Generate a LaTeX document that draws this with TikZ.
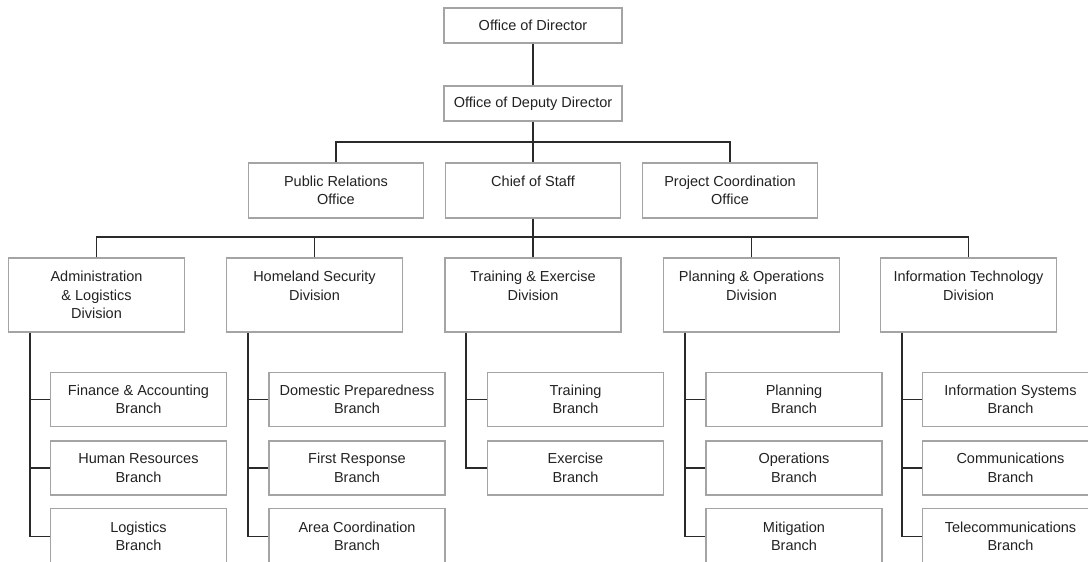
\documentclass[tikz,border=0pt]{standalone}
\usepackage{fontspec}
\setmainfont{Liberation Sans}
\definecolor{boxline}{HTML}{A4A4A4}
\definecolor{conn}{HTML}{2A2A2A}
\definecolor{txt}{HTML}{222222}
\tikzset{
  box/.style={draw=boxline, line width=1.4pt, fill=white, inner sep=0pt, align=center,
    text=txt, font=\fontsize{14.5}{18.5}\selectfont},
  topbox/.style={box, minimum width=178pt, minimum height=35pt},
  offbox/.style={box, minimum width=175pt, minimum height=55pt},
  divbox/.style={box, minimum width=176pt, minimum height=74pt},
  brbox/.style={box, minimum width=176pt, minimum height=54pt},
  lastbox/.style={box, minimum width=176pt, minimum height=56pt},
  link/.style={draw=conn, line width=1.7pt}
}
\begin{document}
\begin{tikzpicture}[x=1pt,y=-1pt]
\useasboundingbox (0,0) rectangle (1088,562);
\clip (0,0) rectangle (1088,562);
\fill[white] (0,0) rectangle (1088,562);

% top levels
\node[topbox] (dir) at (533,25.5) {Office of Director};
\node[topbox] (dep) at (533,103.5) {Office of Deputy Director};
\node[offbox] (pr) at (336,190.5) {Public Relations\\Office};
\node[offbox] (cos) at (533,190.5) {Chief of Staff\\\mbox{}};
\node[offbox] (pco) at (730,190.5) {Project Coordination\\Office};

% divisions
\node[divbox] (adm) at (96.5,295) {Administration\\\& Logistics\\Division};
\node[divbox] (hsd) at (314.5,295) {Homeland Security\\Division\\\mbox{}};
\node[divbox] (ted) at (533,295) {Training \& Exercise\\Division\\\mbox{}};
\node[divbox] (pod) at (751.5,295) {Planning \& Operations\\Division\\\mbox{}};
\node[divbox] (itd) at (968.5,295) {Information Technology\\Division\\\mbox{}};

% branches
\node[brbox] (a1) at (138.5,399.5) {Finance \& Accounting\\Branch};
\node[brbox] (a2) at (138.5,468) {Human Resources\\Branch};
\node[lastbox] (a3) at (138.5,536.5) {Logistics\\Branch};

\node[brbox] (h1) at (357,399.5) {Domestic Preparedness\\Branch};
\node[brbox] (h2) at (357,468) {First Response\\Branch};
\node[lastbox] (h3) at (357,536.5) {Area Coordination\\Branch};

\node[brbox] (t1) at (575.5,399.5) {Training\\Branch};
\node[brbox] (t2) at (575.5,468) {Exercise\\Branch};

\node[brbox] (p1) at (794,399.5) {Planning\\Branch};
\node[brbox] (p2) at (794,468) {Operations\\Branch};
\node[lastbox] (p3) at (794,536.5) {Mitigation\\Branch};

\node[brbox] (i1) at (1010.5,399.5) {Information Systems\\Branch};
\node[brbox] (i2) at (1010.5,468) {Communications\\Branch};
\node[lastbox] (i3) at (1010.5,536.5) {Telecommunications\\Branch};

% connectors, top
\draw[link] (dir) -- (dep);
\draw[link] (dep) -- (cos);
\draw[link] (pr.north) -- ++(0,-20) -| (pco.north);
\draw[link] (cos) -- (ted);
\draw[link] (adm.north) -- ++(0,-20) -| (itd.north);
\draw[link] (hsd.north) -- ++(0,-20);
\draw[link] (pod.north) -- ++(0,-20);

% spines
\coordinate (as) at ([xshift=22pt]adm.south west);
\coordinate (hs) at ([xshift=22pt]hsd.south west);
\coordinate (ts) at ([xshift=22pt]ted.south west);
\coordinate (ps) at ([xshift=22pt]pod.south west);
\coordinate (is) at ([xshift=22pt]itd.south west);

\draw[link] (as) |- (a3.west);
\draw[link] (a1.west) -- (a1.west -| as);
\draw[link] (a2.west) -- (a2.west -| as);

\draw[link] (hs) |- (h3.west);
\draw[link] (h1.west) -- (h1.west -| hs);
\draw[link] (h2.west) -- (h2.west -| hs);

\draw[link] (ts) |- (t2.west);
\draw[link] (t1.west) -- (t1.west -| ts);

\draw[link] (ps) |- (p3.west);
\draw[link] (p1.west) -- (p1.west -| ps);
\draw[link] (p2.west) -- (p2.west -| ps);

\draw[link] (is) |- (i3.west);
\draw[link] (i1.west) -- (i1.west -| is);
\draw[link] (i2.west) -- (i2.west -| is);
\end{tikzpicture}
\end{document}
